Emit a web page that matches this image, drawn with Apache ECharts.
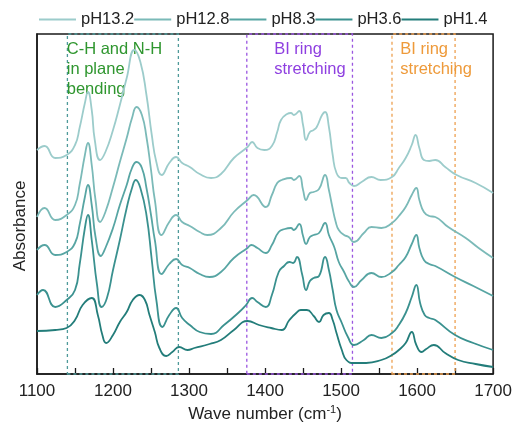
<!DOCTYPE html>
<html>
<head>
<meta charset="utf-8">
<script src="https://cdn.jsdelivr.net/npm/echarts@6/dist/echarts.min.js"></script>
<style>
  html, body { margin: 0; padding: 0; background: #fff; }
  #chart { width: 515px; height: 430px; }
</style>
</head>
<body>
<div id="chart"></div>
<script>
// ---- Data (wave number in cm^-1, absorbance in arbitrary offset units) ----
const seriesNames = ['pH13.2', 'pH12.8', 'pH8.3', 'pH3.6', 'pH1.4'];

const waveTicks = [1100, 1200, 1300, 1400, 1500, 1600, 1700];

const pH132_wave = [1100,1110,1124,1139,1150,1156,1163,1167,1172,1176,1183,1190,1200,1209,1218,1228,1236,1244,1251,1257,1264,1274,1283,1291,1301,1314,1329,1342,1359,1377,1383,1390,1399,1409,1416,1421,1429,1434,1438,1445,1450,1454,1459,1464,1468,1475,1479,1484,1489,1494,1501,1506,1511,1517,1527,1540,1552,1567,1576,1585,1593,1598,1603,1609,1616,1624,1637,1652,1677,1700];
const pH132_abs  = [2.24,2.28,2.16,2.19,2.29,2.46,2.71,2.82,2.64,2.34,2.14,2.22,2.44,2.69,2.96,3.24,3.12,2.79,2.39,2.12,1.99,2.11,2.17,2.11,2.07,2.00,1.96,2.00,2.16,2.27,2.32,2.26,2.24,2.28,2.42,2.54,2.60,2.61,2.59,2.63,2.49,2.34,2.42,2.44,2.47,2.59,2.62,2.47,2.19,2.01,1.96,1.96,1.91,1.88,1.92,1.97,1.94,1.97,2.06,2.16,2.29,2.39,2.26,2.14,2.13,2.14,2.07,1.99,1.91,1.81];

const pH128_wave = [1100,1110,1124,1139,1150,1156,1163,1167,1172,1177,1183,1190,1200,1209,1218,1225,1231,1238,1244,1250,1255,1264,1274,1283,1291,1301,1314,1324,1342,1359,1377,1385,1401,1409,1416,1422,1434,1438,1445,1450,1454,1459,1464,1471,1479,1484,1488,1493,1497,1504,1510,1517,1530,1540,1553,1567,1576,1585,1593,1599,1603,1609,1616,1624,1641,1664,1681,1700];
const pH128_abs  = [1.57,1.66,1.54,1.59,1.69,1.89,2.19,2.31,2.09,1.74,1.52,1.62,1.87,2.12,2.36,2.56,2.67,2.59,2.37,2.04,1.74,1.39,1.52,1.59,1.52,1.48,1.42,1.39,1.46,1.62,1.74,1.79,1.67,1.79,1.91,1.94,1.96,1.94,1.98,1.84,1.74,1.81,1.82,1.85,1.99,1.84,1.69,1.52,1.44,1.39,1.37,1.32,1.41,1.47,1.46,1.51,1.58,1.67,1.79,1.86,1.74,1.62,1.58,1.57,1.47,1.36,1.26,1.16];

const pH83_wave = [1100,1110,1124,1139,1150,1156,1163,1167,1172,1177,1184,1190,1200,1209,1218,1225,1231,1238,1244,1250,1255,1264,1274,1283,1291,1301,1314,1327,1342,1359,1377,1382,1390,1401,1409,1418,1426,1434,1438,1445,1450,1454,1459,1464,1471,1479,1484,1491,1497,1504,1510,1517,1527,1540,1553,1567,1576,1585,1593,1599,1603,1609,1616,1624,1650,1674,1700];
const pH83_abs  = [1.24,1.29,1.19,1.22,1.31,1.49,1.77,1.89,1.69,1.37,1.18,1.26,1.46,1.69,1.89,2.06,2.12,2.06,1.86,1.59,1.34,1.00,1.10,1.15,1.09,1.06,1.00,0.97,1.02,1.16,1.26,1.29,1.26,1.21,1.29,1.42,1.45,1.46,1.44,1.50,1.38,1.30,1.37,1.39,1.41,1.51,1.39,1.27,1.12,1.02,0.93,0.87,0.94,1.01,0.97,1.02,1.09,1.17,1.30,1.39,1.26,1.14,1.10,1.08,0.97,0.88,0.78];

const pH36_wave = [1100,1108,1124,1139,1150,1156,1163,1167,1172,1179,1185,1192,1200,1209,1218,1225,1230,1236,1244,1251,1257,1265,1274,1283,1291,1301,1314,1329,1346,1366,1375,1383,1390,1401,1409,1418,1425,1432,1437,1442,1449,1454,1459,1464,1471,1479,1484,1489,1494,1501,1509,1517,1530,1540,1553,1567,1576,1585,1593,1599,1604,1610,1616,1624,1650,1674,1700];
const pH36_abs  = [0.79,0.84,0.67,0.74,0.84,1.09,1.46,1.59,1.34,0.89,0.67,0.76,1.04,1.34,1.66,1.86,1.94,1.86,1.59,1.14,0.74,0.47,0.59,0.66,0.56,0.49,0.42,0.40,0.49,0.62,0.69,0.76,0.72,0.67,0.79,1.02,1.08,1.12,1.11,1.17,0.99,0.84,0.93,0.96,0.98,1.17,1.04,0.84,0.64,0.51,0.37,0.29,0.34,0.39,0.36,0.41,0.49,0.61,0.77,0.89,0.71,0.59,0.56,0.54,0.39,0.31,0.24];

const pH14_wave = [1100,1124,1139,1150,1160,1172,1180,1186,1191,1200,1209,1218,1226,1235,1242,1248,1255,1261,1270,1278,1287,1298,1307,1327,1342,1359,1377,1392,1408,1422,1432,1441,1447,1455,1464,1471,1477,1484,1489,1494,1501,1507,1517,1533,1553,1567,1576,1585,1593,1599,1606,1612,1622,1637,1654,1677,1700];
const pH14_abs  = [0.43,0.44,0.46,0.54,0.69,0.76,0.59,0.39,0.31,0.39,0.52,0.62,0.74,0.79,0.74,0.59,0.42,0.26,0.18,0.22,0.27,0.24,0.26,0.30,0.34,0.44,0.53,0.49,0.46,0.44,0.54,0.61,0.64,0.64,0.58,0.52,0.59,0.61,0.54,0.41,0.24,0.14,0.11,0.11,0.14,0.19,0.24,0.31,0.42,0.29,0.22,0.25,0.29,0.21,0.14,0.10,0.07];

// Marked spectral regions (cm^-1)
const regionCH = [1140, 1286];
const regionBI1 = [1376, 1515];
const regionBI2 = [1567, 1650];

// ---- Styling ----
const lineColors = ['#9ccccb', '#7bbab8', '#57a5a3', '#3a918f', '#237d7a'];
const FONT = 'Liberation Sans, Arial, sans-serif';

const waves = [pH132_wave, pH128_wave, pH83_wave, pH36_wave, pH14_wave];
const abss = [pH132_abs, pH128_abs, pH83_abs, pH36_abs, pH14_abs];

function pairs(w, a) { return w.map((x, i) => [x, a[i]]); }

function areaItem(range, color, text, offset, textColor) {
  return [
    { xAxis: range[0],
      itemStyle: { color: 'rgba(0,0,0,0)', borderColor: color, borderWidth: 1.3, borderType: [3, 3] },
      label: { show: true, formatter: text, position: offset, align: 'left', verticalAlign: 'top',
               color: textColor, fontSize: 16.5, lineHeight: 20, fontFamily: FONT } },
    { xAxis: range[1] }
  ];
}

const series = seriesNames.map((name, i) => ({
  name: name,
  type: 'line',
  data: pairs(waves[i], abss[i]),
  symbol: 'none',
  smooth: 0.5,
  lineStyle: { width: 1.8, color: lineColors[i] },
  itemStyle: { color: lineColors[i] },
  z: 3,
  silent: true
}));

series[0].markArea = {
  silent: true,
  z: 1,
  data: [
    areaItem(regionCH, '#4f9a9a', 'C-H and N-H\nin plane\nbending', [0, 6], '#2f962f'),
    areaItem(regionBI1, '#9a55e0', 'BI ring\nstretching', [28, 6], '#8e3fe0'),
    areaItem(regionBI2, '#eda050', 'BI ring\nstretching', [9, 6], '#ee9a3a')
  ]
};

const chart = echarts.init(document.getElementById('chart'), null, { renderer: 'canvas' });
chart.setOption({
  animation: false,
  backgroundColor: '#ffffff',
  textStyle: { fontFamily: FONT },
  legend: {
    data: seriesNames,
    left: 34,
    top: 6,
    icon: 'rect',
    itemWidth: 37,
    itemHeight: 2,
    itemGap: 0,
    textStyle: { fontSize: 16.5, color: '#222', fontFamily: FONT },
    selectedMode: false
  },
  grid: {
    left: 37, right: 20, top: 34, bottom: 56,
    show: true, borderColor: '#1a1a1a', borderWidth: 1.5, backgroundColor: 'transparent'
  },
  xAxis: {
    type: 'value',
    min: waveTicks[0],
    max: waveTicks[waveTicks.length - 1],
    interval: 100,
    name: 'Wave number (cm{sup|-1})',
    nameLocation: 'middle',
    nameGap: 28,
    nameTextStyle: {
      fontSize: 17, color: '#222', fontFamily: FONT,
      rich: { sup: { fontSize: 11, verticalAlign: 'top', padding: [0, 0, 8, 0], color: '#222', fontFamily: FONT } }
    },
    axisLine: { show: true, lineStyle: { color: '#1a1a1a', width: 1.5 } },
    axisTick: { show: true, inside: true, length: 6, lineStyle: { color: '#1a1a1a', width: 1.3 } },
    minorTick: { show: true, splitNumber: 2, length: 6, lineStyle: { color: '#1a1a1a', width: 1.3 } },
    axisLabel: { fontSize: 17, color: '#222', margin: 9, fontFamily: FONT, formatter: v => String(v) },
    splitLine: { show: false }
  },
  yAxis: {
    type: 'value',
    min: 0,
    max: 3.4,
    name: 'Absorbance',
    nameLocation: 'middle',
    nameGap: 8,
    nameTextStyle: { fontSize: 17, color: '#222', fontFamily: FONT, padding: [0, 44, 0, 0] },
    axisLine: { show: true, lineStyle: { color: '#1a1a1a', width: 1.5 } },
    axisTick: { show: false },
    axisLabel: { show: false },
    splitLine: { show: false }
  },
  series: series
});
</script>
</body>
</html>
